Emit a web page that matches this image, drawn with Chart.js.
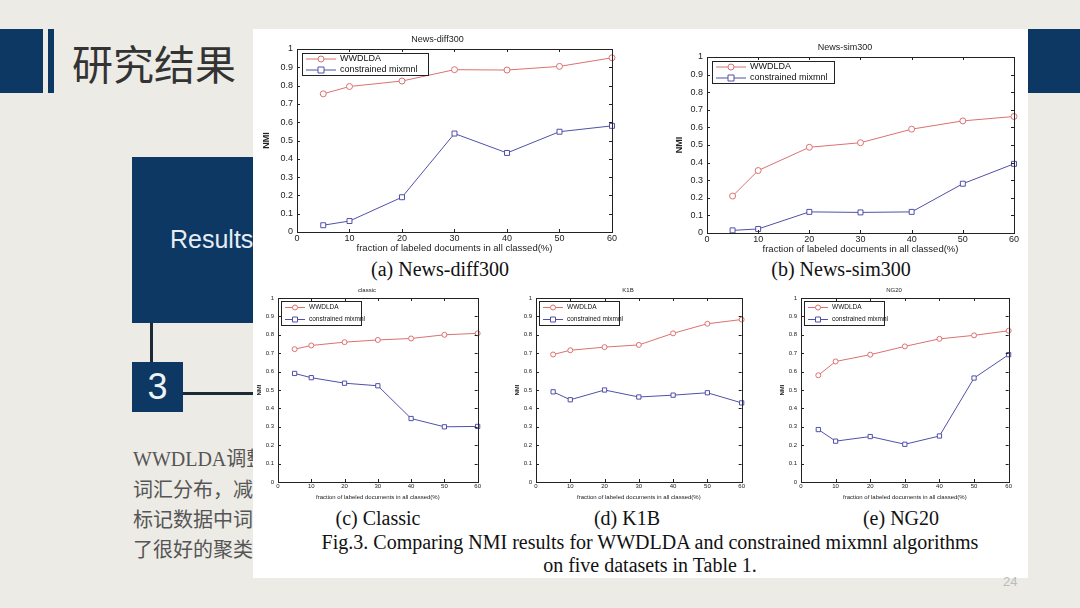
<!DOCTYPE html>
<html lang="zh">
<head>
<meta charset="UTF-8">
<title>研究结果</title>
<script src="https://cdn.jsdelivr.net/npm/chart.js"></script>
<style>
  body { margin: 0; width: 1080px; height: 608px; overflow: hidden; background: #edebe5; position: relative; font-family: "Noto Sans CJK SC", sans-serif; }
  .abs { position: absolute; }
  .navy { background: #0c3863; }
  .cap { position: absolute; font-family: "Liberation Serif", serif; font-size: 20px; line-height: 23px; color: #111; white-space: nowrap; transform: translateX(-50%); }
  canvas { position: absolute; }
</style>
</head>
<body>
  <div class="abs navy" style="left:0;top:29px;width:43px;height:64px"></div>
  <div class="abs navy" style="left:48px;top:29px;width:6px;height:64px"></div>
  <div class="abs navy" style="left:1028px;top:29px;width:52px;height:64px"></div>
  <div class="abs" style="left:72px;top:32px;font-size:41px;color:#333;line-height:60px">研究结果</div>

  <div class="abs navy" style="left:132px;top:157px;width:130px;height:166px"></div>
  <div class="abs" style="left:170px;top:225px;font:25px 'Liberation Sans',sans-serif;color:#e6edf5">Results</div>
  <div class="abs" style="left:150px;top:323px;width:3px;height:40px;background:#1c2a38"></div>
  <div class="abs navy" style="left:132px;top:362px;width:51px;height:50px;color:#eef3f8;font:36px 'Liberation Sans',sans-serif;text-align:center;line-height:50px">3</div>
  <div class="abs" style="left:183px;top:392px;width:75px;height:3px;background:#1c2a38"></div>

  <div class="abs" style="left:133px;top:444px;font-size:20px;line-height:30px;color:#555;white-space:nowrap">
    <div style="font-family:'Liberation Serif','Noto Sans CJK SC',serif">WWDLDA调整了每个主题下的</div>
    <div>词汇分布，减少了未标记与</div>
    <div>标记数据中词汇的差异，取得</div>
    <div>了很好的聚类效果。</div>
  </div>

  <div class="abs" style="left:253px;top:29px;width:775px;height:549px;background:#fff"></div>
  <div class="abs" style="left:1003px;top:574px;font:13px 'Liberation Sans',sans-serif;color:#bbb">24</div>

  <canvas id="chartA" style="left:261px;top:34px" width="357" height="220"></canvas>
  <canvas id="chartB" style="left:674px;top:42px" width="346" height="213"></canvas>
  <canvas id="chartC" style="left:256px;top:287px" width="226" height="214"></canvas>
  <canvas id="chartD" style="left:514px;top:287px" width="232" height="214"></canvas>
  <canvas id="chartE" style="left:779px;top:287px" width="234" height="214"></canvas>

  <div class="cap" style="left:440px;top:258px">(a) News-diff300</div>
  <div class="cap" style="left:841px;top:258px">(b) News-sim300</div>
  <div class="cap" style="left:378px;top:507px">(c) Classic</div>
  <div class="cap" style="left:627px;top:507px">(d) K1B</div>
  <div class="cap" style="left:901px;top:507px">(e) NG20</div>
  <div class="cap" style="left:650px;top:531px">Fig.3. Comparing NMI results for WWDLDA and constrained mixmnl algorithms</div>
  <div class="cap" style="left:650px;top:554px">on five datasets in Table 1.</div>

<script>
  // x values (percent of labeled documents)
  const fractions = [5, 10, 20, 30, 40, 50, 60];
  const seriesNames = ['WWDLDA', 'constrained mixmnl'];

  // NMI values
  const diff300Wwdlda = [0.755, 0.795, 0.825, 0.887, 0.885, 0.905, 0.952];
  const diff300Mixmnl = [0.037, 0.060, 0.190, 0.538, 0.432, 0.548, 0.580];
  const sim300Wwdlda  = [0.210, 0.355, 0.487, 0.513, 0.590, 0.637, 0.662];
  const sim300Mixmnl  = [0.015, 0.023, 0.120, 0.117, 0.120, 0.280, 0.393];
  const classicWwdlda = [0.722, 0.742, 0.760, 0.772, 0.780, 0.800, 0.808];
  const classicMixmnl = [0.590, 0.567, 0.537, 0.523, 0.345, 0.300, 0.302];
  const k1bWwdlda     = [0.693, 0.716, 0.733, 0.745, 0.808, 0.860, 0.883];
  const k1bMixmnl     = [0.490, 0.447, 0.500, 0.462, 0.472, 0.485, 0.430];
  const ng20Wwdlda    = [0.580, 0.655, 0.692, 0.737, 0.778, 0.797, 0.822];
  const ng20Mixmnl    = [0.285, 0.222, 0.247, 0.205, 0.250, 0.565, 0.692];

  const RED = '#dc7070';
  const BLUE = '#5050a8';

  // MATLAB style box with inward ticks
  const framePlugin = {
    id: 'frame',
    afterDatasetsDraw(chart) {
      const { ctx, chartArea: a, scales } = chart;
      ctx.save();
      ctx.strokeStyle = '#222';
      ctx.lineWidth = 1;
      ctx.strokeRect(Math.round(a.left) + 0.5, Math.round(a.top) + 0.5, Math.round(a.width), Math.round(a.height));
      const t = 3;
      ctx.beginPath();
      scales.x.ticks.forEach(tk => {
        const px = Math.round(scales.x.getPixelForValue(tk.value)) + 0.5;
        ctx.moveTo(px, a.bottom); ctx.lineTo(px, a.bottom - t);
        ctx.moveTo(px, a.top); ctx.lineTo(px, a.top + t);
      });
      scales.y.ticks.forEach(tk => {
        const py = Math.round(scales.y.getPixelForValue(tk.value)) + 0.5;
        ctx.moveTo(a.left, py); ctx.lineTo(a.left + t, py);
        ctx.moveTo(a.right, py); ctx.lineTo(a.right - t, py);
      });
      ctx.stroke();
      ctx.restore();
    }
  };

  // boxed legend inside the top-left corner
  const boxLegendPlugin = {
    id: 'boxLegend',
    afterDraw(chart, args, opts) {
      const { ctx, chartArea: a } = chart;
      const x0 = a.left + opts.dx, y0 = a.top + opts.dy;
      ctx.save();
      ctx.fillStyle = '#fff';
      ctx.fillRect(x0, y0, opts.w, opts.h);
      ctx.strokeStyle = '#222';
      ctx.lineWidth = 1;
      ctx.strokeRect(x0 + 0.5, y0 + 0.5, opts.w, opts.h);
      ctx.font = opts.fontSize + 'px "Liberation Sans", Arial, sans-serif';
      ctx.textBaseline = 'middle';
      chart.data.datasets.forEach((ds, i) => {
        const cy = y0 + opts.h * (i * 2 + 1) / 4 + 0.5;
        const lx = x0 + 4;
        ctx.strokeStyle = ds.borderColor;
        ctx.beginPath();
        ctx.moveTo(lx, cy); ctx.lineTo(lx + opts.sample, cy);
        ctx.stroke();
        const mx = lx + opts.sample / 2, r = opts.r;
        ctx.fillStyle = '#fff';
        ctx.beginPath();
        if (ds.pointStyle === 'circle') ctx.arc(mx, cy, r, 0, Math.PI * 2);
        else ctx.rect(mx - r, cy - r, r * 2, r * 2);
        ctx.fill(); ctx.stroke();
        ctx.fillStyle = '#111';
        ctx.fillText(ds.label, lx + opts.sample + 4, cy);
      });
      ctx.restore();
    }
  };

  function makeChart(id, title, wwdlda, mixmnl, s) {
    const font = { family: '"Liberation Sans", Arial, sans-serif', size: s.font, lineHeight: 1.2 };
    const titleFont = { ...font, size: s.titleFont };
    new Chart(document.getElementById(id), {
      type: 'line',
      data: {
        datasets: [
          { label: seriesNames[0], data: fractions.map((x, i) => ({ x, y: wwdlda[i] })),
            borderColor: RED, backgroundColor: '#fff', pointStyle: 'circle',
            pointRadius: s.r, pointBorderWidth: 1, borderWidth: 1, clip: false },
          { label: seriesNames[1], data: fractions.map((x, i) => ({ x, y: mixmnl[i] })),
            borderColor: BLUE, backgroundColor: '#fff', pointStyle: 'rect',
            pointRadius: s.r + 0.5, pointBorderWidth: 1, borderWidth: 1, clip: false }
        ]
      },
      options: {
        responsive: false,
        animation: false,
        layout: { autoPadding: false, padding: { right: 4, top: 0, left: 0, bottom: 0 } },
        plugins: {
          legend: { display: false },
          tooltip: { enabled: false },
          title: { display: true, text: title, color: '#222', font: { ...font, weight: 'normal' },
                   padding: { top: 0, bottom: s.titleGap } },
          boxLegend: s.legend
        },
        scales: {
          x: {
            type: 'linear', min: 0, max: 60,
            ticks: { stepSize: 10, color: '#222', font, padding: 1, maxRotation: 0 },
            grid: { display: false, drawTicks: false }, border: { display: false },
            title: { display: true, text: 'fraction of labeled documents in all classed(%)', color: '#222', font: titleFont, padding: 0 },
            afterFit(scale) { scale.height = s.xh; }
          },
          y: {
            min: 0, max: 1,
            ticks: { stepSize: 0.1, color: '#222', font, padding: 4, callback: v => String(+v.toFixed(1)) },
            grid: { display: false, drawTicks: false }, border: { display: false },
            title: { display: true, text: 'NMI', color: '#222', font: { ...font, weight: 'bold' }, padding: 0 },
            afterFit(scale) { scale.width = s.yw; }
          }
        }
      },
      plugins: [framePlugin, boxLegendPlugin]
    });
  }

  const legendA = { dx: 5, dy: 4, w: 126, h: 22, fontSize: 9, sample: 30, r: 3 };
  const legendB = { dx: 5, dy: 4, w: 122, h: 22, fontSize: 9, sample: 30, r: 3 };
  const legendSmall = { dx: 3, dy: 3, w: 80, h: 24, fontSize: 6.5, sample: 20, r: 2.5 };

  makeChart('chartA', 'News-diff300', diff300Wwdlda, diff300Mixmnl,
    { font: 9, titleFont: 9.5, r: 3, titleGap: 4.2, xh: 22, yw: 36, legend: legendA });
  makeChart('chartB', 'News-sim300', sim300Wwdlda, sim300Mixmnl,
    { font: 9, titleFont: 9.5, r: 3, titleGap: 4.2, xh: 22, yw: 33, legend: legendB });
  makeChart('chartC', 'classic', classicWwdlda, classicMixmnl,
    { font: 6, titleFont: 6, r: 2.5, titleGap: 3.8, xh: 19, yw: 22, legend: legendSmall });
  makeChart('chartD', 'K1B', k1bWwdlda, k1bMixmnl,
    { font: 6, titleFont: 6, r: 2.5, titleGap: 3.8, xh: 19, yw: 22, legend: legendSmall });
  makeChart('chartE', 'NG20', ng20Wwdlda, ng20Mixmnl,
    { font: 6, titleFont: 6, r: 2.5, titleGap: 3.8, xh: 19, yw: 22, legend: legendSmall });
</script>
</body>
</html>
